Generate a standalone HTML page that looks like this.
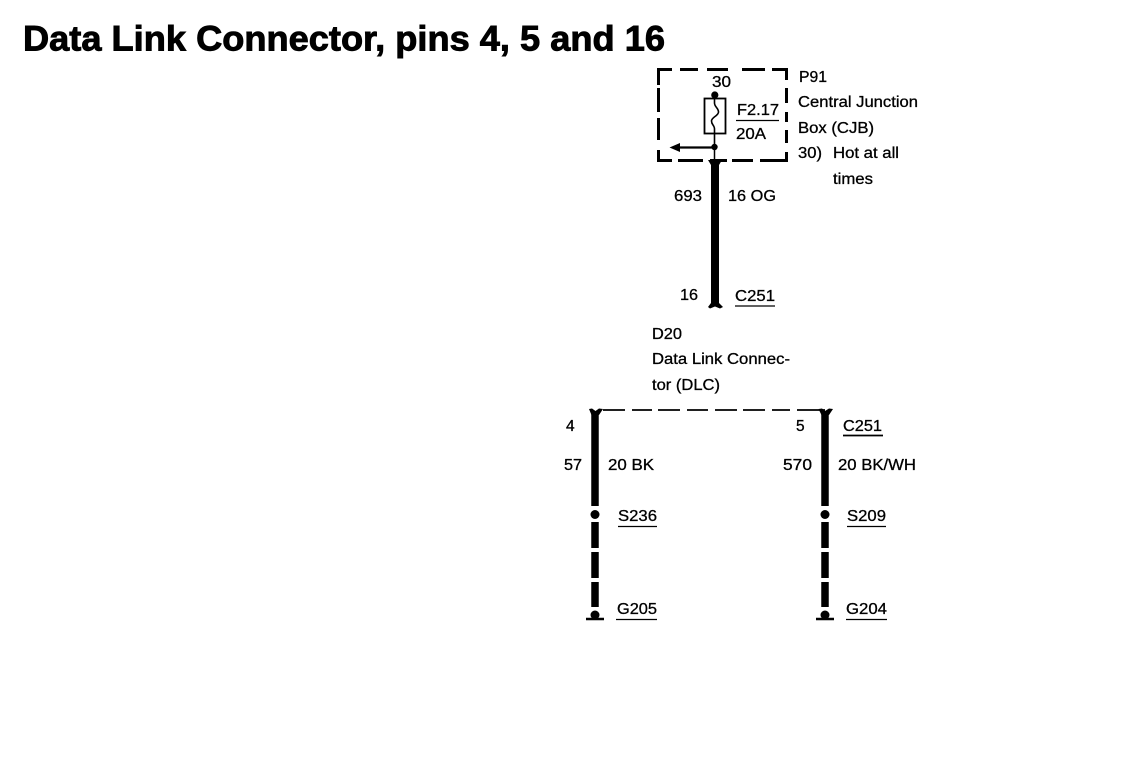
<!DOCTYPE html>
<html><head><meta charset="utf-8"><style>
html,body{margin:0;padding:0;background:#fff;width:1136px;height:766px;overflow:hidden}
svg{display:block}
text{font-family:"Liberation Sans",Arial,sans-serif;font-size:15.5px;fill:#000;stroke:#000;stroke-width:.3px}
</style></head><body>
<svg width="1136" height="766" viewBox="0 0 1136 766" xmlns="http://www.w3.org/2000/svg">
<rect width="1136" height="766" fill="#fff"/>
<text x="23" y="50.500" style="font-size:35.500px;font-weight:bold;stroke-width:.9px" textLength="642" lengthAdjust="spacingAndGlyphs">Data Link Connector, pins 4, 5 and 16</text>

<!-- CJB dashed box -->
<g stroke="#000" stroke-width="3" fill="none">
<path d="M658.500 85V69.500H672M680 69.500H698M707 69.500H728M742 69.500H765M772 69.500H786.500V80"/>
<path d="M658.500 88V112M658.500 118V140"/>
<path d="M786.500 88V103M786.500 112V122M786.500 130V143"/>
<path d="M658.500 150V160.500H672M678 160.500H703M710 160.500H727M732 160.500H753M760 160.500H786.500V152"/>
</g>
<!-- fuse -->
<circle cx="714.800" cy="95" r="3.600" fill="#000"/>
<rect x="704.500" y="98.500" width="21" height="35" fill="#fff" stroke="#000" stroke-width="1.800"/>
<path d="M714.500 99V103C714.500 107 718.500 108 718.500 112C718.500 116 711.500 117 711.500 121C711.500 125 714.500 125 714.500 129V147" fill="none" stroke="#000" stroke-width="1.600"/>
<circle cx="714.500" cy="147" r="3.200" fill="#000"/>
<path d="M714.500 147V162" stroke="#000" stroke-width="1.500"/>
<path d="M680 147.500H714" stroke="#000" stroke-width="2.200"/>
<path d="M669.500 147.500L680 143V152Z" fill="#000"/>
<!-- top wire -->
<path d="M715 160V303" stroke="#000" stroke-width="8"/>
<path d="M708 307L711 303H719L723 307L720 308.500L715 306.500L710 308.500Z" fill="#000"/>
<path d="M708 160H722L719 165H711Z" fill="#000"/>

<!-- DLC dashed -->
<g stroke="#000" stroke-width="1.800" fill="none">
<path d="M603 410H625M632 410H652M658 410H680M687 410H708M715 410H737M743 410H765M772 410H790M797 410H825"/>
</g>
<!-- left wire -->
<path d="M595 412V506" stroke="#000" stroke-width="7.500"/>
<path d="M589 409L592 408.500L595.500 411L599 408.500L603 409L599 415H591.500Z" fill="#000"/>
<circle cx="595" cy="514.500" r="4.500" fill="#000"/>
<path d="M595 522V548M595 552V578M595 582V607" stroke="#000" stroke-width="7.500"/>
<circle cx="595" cy="615" r="4.500" fill="#000"/>
<path d="M586 619H604" stroke="#000" stroke-width="2.500"/>
<!-- right wire -->
<path d="M825 412V506" stroke="#000" stroke-width="7.500"/>
<path d="M818.500 409L822 408.500L825 411L829 408.500L833 409L829 415H821.500Z" fill="#000"/>
<circle cx="825" cy="514.500" r="4.500" fill="#000"/>
<path d="M825 522V548M825 552V578M825 582V607" stroke="#000" stroke-width="7.500"/>
<circle cx="825" cy="615" r="4.500" fill="#000"/>
<path d="M816 619H834" stroke="#000" stroke-width="2.500"/>

<!-- underlines -->
<g stroke="#000" stroke-width="1.200">
<path d="M736 120.500H779"/>
<path d="M735 306H775"/>
<path d="M843 435.500H883" stroke-width="1.800"/>
<path d="M618 526.500H657"/>
<path d="M847 526.500H886"/>
<path d="M616 619.500H657"/>
<path d="M846 619.500H887"/>
</g>

<!-- labels -->
<g>
<text x="712" y="87" textLength="19" lengthAdjust="spacingAndGlyphs">30</text>
<text x="737" y="115" textLength="42" lengthAdjust="spacingAndGlyphs">F2.17</text>
<text x="736" y="139" textLength="30" lengthAdjust="spacingAndGlyphs">20A</text>
<text x="799" y="82" textLength="28" lengthAdjust="spacingAndGlyphs">P91</text>
<text x="798" y="107" textLength="120" lengthAdjust="spacingAndGlyphs">Central Junction</text>
<text x="798" y="133" textLength="76" lengthAdjust="spacingAndGlyphs">Box (CJB)</text>
<text x="798" y="158" textLength="24" lengthAdjust="spacingAndGlyphs">30)</text>
<text x="833" y="158" textLength="66" lengthAdjust="spacingAndGlyphs">Hot at all</text>
<text x="833" y="184" textLength="40" lengthAdjust="spacingAndGlyphs">times</text>
<text x="674" y="201" textLength="28" lengthAdjust="spacingAndGlyphs">693</text>
<text x="728" y="201" textLength="48" lengthAdjust="spacingAndGlyphs">16 OG</text>
<text x="680" y="300" textLength="18" lengthAdjust="spacingAndGlyphs">16</text>
<text x="735" y="301" textLength="40" lengthAdjust="spacingAndGlyphs">C251</text>
<text x="652" y="339" textLength="30" lengthAdjust="spacingAndGlyphs">D20</text>
<text x="652" y="364" textLength="138" lengthAdjust="spacingAndGlyphs">Data Link Connec-</text>
<text x="652" y="390" textLength="68" lengthAdjust="spacingAndGlyphs">tor (DLC)</text>
<text x="566" y="431">4</text>
<text x="796" y="431">5</text>
<text x="843" y="431" textLength="39" lengthAdjust="spacingAndGlyphs">C251</text>
<text x="564" y="470" textLength="18" lengthAdjust="spacingAndGlyphs">57</text>
<text x="608" y="470" textLength="46" lengthAdjust="spacingAndGlyphs">20 BK</text>
<text x="783" y="470" textLength="29" lengthAdjust="spacingAndGlyphs">570</text>
<text x="838" y="470" textLength="78" lengthAdjust="spacingAndGlyphs">20 BK/WH</text>
<text x="618" y="521" textLength="39" lengthAdjust="spacingAndGlyphs">S236</text>
<text x="847" y="521" textLength="39" lengthAdjust="spacingAndGlyphs">S209</text>
<text x="617" y="614" textLength="40" lengthAdjust="spacingAndGlyphs">G205</text>
<text x="846" y="614" textLength="41" lengthAdjust="spacingAndGlyphs">G204</text>
</g>
</svg>
</body></html>
